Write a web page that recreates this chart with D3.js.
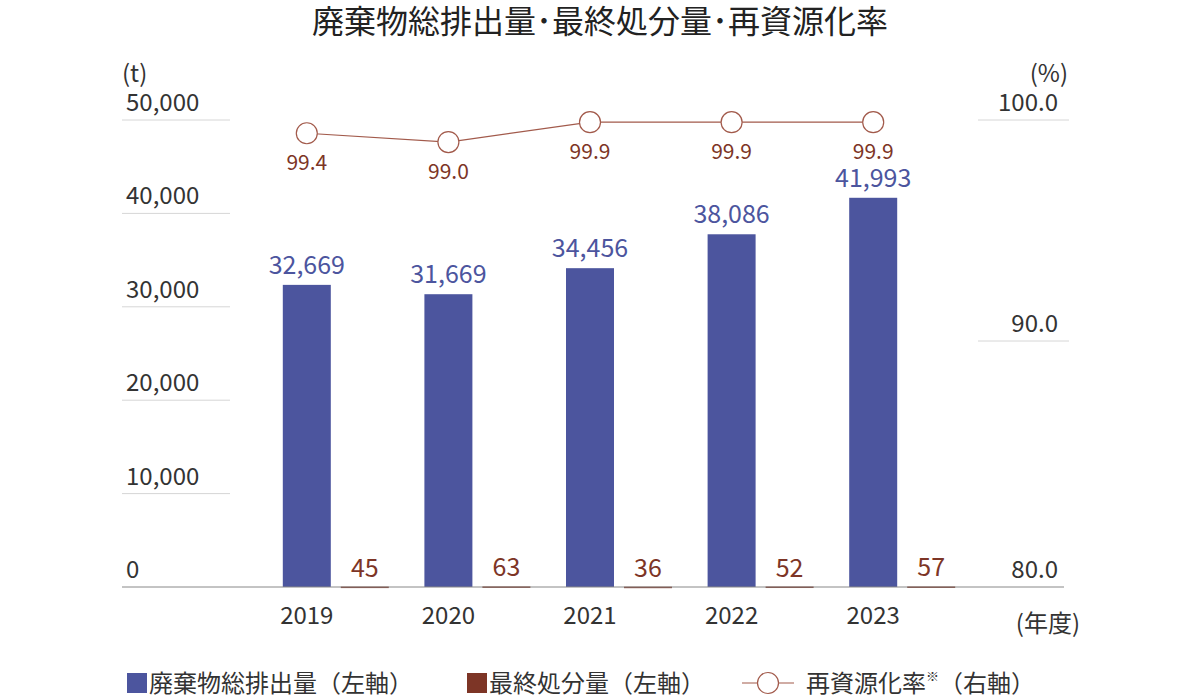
<!DOCTYPE html>
<html><head><meta charset="utf-8">
<script src="https://cdn.jsdelivr.net/npm/d3@7"></script>
<style>
body{margin:0;background:#fff}
text{font-family:"Noto Sans CJK JP","Noto Sans",sans-serif}
</style></head><body>
<svg id="chart" width="1200" height="700"></svg>
<script>
// data
const years = ['2019', '2020', '2021', '2022', '2023'];
const totalWaste = [32669, 31669, 34456, 38086, 41993];
const finalDisposal = [45, 63, 36, 52, 57];
const recycleRate = [99.4, 99.0, 99.9, 99.9, 99.9];
const leftTicks = [0, 10000, 20000, 30000, 40000, 50000];
const rightTicks = [90, 100];

const blue = '#4c559e', brown = '#7d3526', lineCol = '#a25a4b';
const svg = d3.select('#chart');
const baseY = 587;

// scales
const xScale = d3.scaleBand().domain(years).range([236, 944]).padding(0);
const yLeft = d3.scaleLinear().domain([0, 50000]).range([baseY, 120]);
const yRight = d3.scaleLinear().domain([90, 100]).range([341, 120]);
const barW = 48;
const barX = d => xScale(d) + xScale.bandwidth()/2 - barW/2;

// title
svg.append('text').attr('x', 600).attr('y', 33).attr('text-anchor', 'middle')
    .attr('font-size', 32).attr('fill', '#222').text('廃棄物総排出量･最終処分量･再資源化率');

// left axis gridlines + labels
const gl = svg.append('g');
leftTicks.forEach(t => {
    if (t > 0) gl.append('line').attr('x1', 122).attr('x2', 230)
        .attr('y1', yLeft(t)).attr('y2', yLeft(t)).attr('stroke', '#d6d6d6');
    gl.append('text').attr('x', 126).attr('y', yLeft(t) - 9)
        .attr('font-size', 24).attr('fill', '#333').text(d3.format(',')(t));
});
svg.append('text').attr('x', 122).attr('y', 82).attr('font-size', 24).attr('fill', '#333').text('(t)');

// right axis
rightTicks.forEach(t => {
    svg.append('line').attr('x1', 978).attr('x2', 1069)
        .attr('y1', yRight(t)).attr('y2', yRight(t)).attr('stroke', '#d6d6d6');
    svg.append('text').attr('x', 1058).attr('y', yRight(t) - 9).attr('text-anchor', 'end')
        .attr('font-size', 24).attr('fill', '#333').text(t.toFixed(1));
});
// axis break: bottom of right axis labelled 80.0
svg.append('text').attr('x', 1058).attr('y', baseY - 9).attr('text-anchor', 'end')
    .attr('font-size', 24).attr('fill', '#333').text((80).toFixed(1));
svg.append('text').attr('x', 1068).attr('y', 82).attr('text-anchor', 'end')
    .attr('font-size', 24).attr('fill', '#333').text('(%)');

// bars
svg.selectAll('.bar-total').data(years).enter().append('rect')
    .attr('x', d => barX(d)).attr('width', barW)
    .attr('y', (d, i) => yLeft(totalWaste[i]) + 3)
    .attr('height', (d, i) => baseY - yLeft(totalWaste[i]) - 3)
    .attr('fill', blue);
svg.selectAll('.bar-final').data(years).enter().append('rect')
    .attr('x', d => barX(d) + barW + 10).attr('width', barW)
    .attr('y', (d, i) => yLeft(finalDisposal[i]))
    .attr('height', (d, i) => Math.max(1.5, baseY - yLeft(finalDisposal[i])))
    .attr('fill', brown);

// baseline
svg.append('line').attr('x1', 122).attr('x2', 1064).attr('y1', baseY).attr('y2', baseY)
    .attr('stroke', '#888');

// bar labels
svg.selectAll('.lab-total').data(years).enter().append('text')
    .attr('x', d => barX(d) + barW/2)
    .attr('y', (d, i) => yLeft(totalWaste[i]) - 8)
    .attr('text-anchor', 'middle').attr('font-size', 25).attr('fill', blue)
    .text((d, i) => d3.format(',')(totalWaste[i]));
svg.selectAll('.lab-final').data(years).enter().append('text')
    .attr('x', d => barX(d) + barW*1.5 + 10)
    .attr('y', (d, i) => yLeft(finalDisposal[i]) - 10)
    .attr('text-anchor', 'middle').attr('font-size', 25).attr('fill', brown)
    .text((d, i) => finalDisposal[i]);

// x labels
svg.selectAll('.xlab').data(years).enter().append('text')
    .attr('x', d => barX(d) + barW/2).attr('y', 624)
    .attr('text-anchor', 'middle').attr('font-size', 24).attr('fill', '#333').text(d => d);
svg.append('text').attr('x', 1080).attr('y', 632).attr('text-anchor', 'end')
    .attr('font-size', 24).attr('fill', '#333').text('(年度)');

// rate line
const pts = years.map((d, i) => [barX(d) + barW/2, yRight(recycleRate[i])]);
svg.append('path').attr('d', d3.line()(pts)).attr('fill', 'none')
    .attr('stroke', lineCol).attr('stroke-width', 1.2);
svg.selectAll('.pt').data(pts).enter().append('circle')
    .attr('cx', d => d[0]).attr('cy', d => d[1]).attr('r', 10.5)
    .attr('fill', '#fff').attr('stroke', lineCol).attr('stroke-width', 1.2);
svg.selectAll('.lab-rate').data(pts).enter().append('text')
    .attr('x', d => d[0]).attr('y', d => d[1] + 37)
    .attr('text-anchor', 'middle').attr('font-size', 21).attr('fill', brown)
    .text((d, i) => recycleRate[i].toFixed(1));

// legend
const lg = svg.append('g').attr('font-size', 24).attr('fill', '#333');
lg.append('rect').attr('x', 127).attr('y', 673).attr('width', 20).attr('height', 20).attr('fill', blue);
lg.append('text').attr('x', 149).attr('y', 692).text('廃棄物総排出量（左軸）');
lg.append('rect').attr('x', 467).attr('y', 673).attr('width', 20).attr('height', 20).attr('fill', brown);
lg.append('text').attr('x', 489).attr('y', 692).text('最終処分量（左軸）');
lg.append('line').attr('x1', 742).attr('x2', 794).attr('y1', 683).attr('y2', 683)
    .attr('stroke', lineCol).attr('stroke-width', 1.2);
lg.append('circle').attr('cx', 768).attr('cy', 683).attr('r', 10.5)
    .attr('fill', '#fff').attr('stroke', lineCol).attr('stroke-width', 1.2);
const lt = lg.append('text').attr('x', 806).attr('y', 692).text('再資源化率');
lt.append('tspan').attr('font-size', 13).attr('dy', -11).text('※');
lt.append('tspan').attr('dy', 11).text('（右軸）');
</script></body></html>
